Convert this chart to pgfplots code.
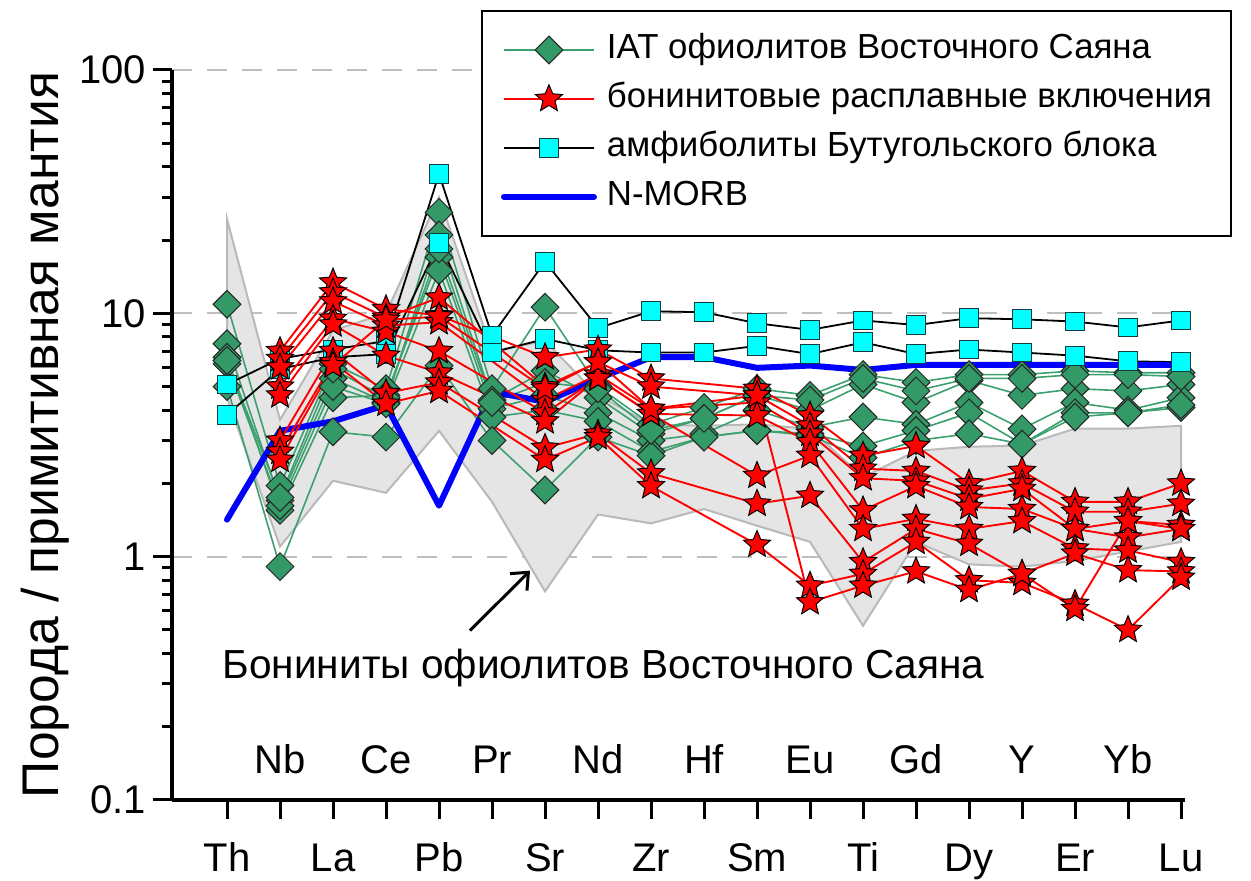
\documentclass[border=0pt]{standalone}
\usepackage{pgfplots}
\pgfplotsset{compat=1.18}
\usepackage{fontspec}
\setmainfont{Liberation Sans}
\usetikzlibrary{arrows.meta}

\definecolor{iatg}{RGB}{51,153,102}
\definecolor{iatl}{RGB}{60,160,110}
\definecolor{fieldfill}{RGB}{229,229,229}
\definecolor{fieldline}{RGB}{185,185,185}
\definecolor{morb}{RGB}{0,0,255}
\definecolor{mkedge}{RGB}{20,60,60}
\definecolor{sqfill}{RGB}{0,255,255}
\definecolor{starred}{RGB}{255,0,0}

\pgfdeclareplotmark{fstar}{%
  \pgfpathmoveto{\pgfpointpolar{90}{\pgfplotmarksize}}%
  \pgfpathlineto{\pgfpointpolar{126}{0.45*\pgfplotmarksize}}%
  \pgfpathlineto{\pgfpointpolar{162}{\pgfplotmarksize}}%
  \pgfpathlineto{\pgfpointpolar{198}{0.45*\pgfplotmarksize}}%
  \pgfpathlineto{\pgfpointpolar{234}{\pgfplotmarksize}}%
  \pgfpathlineto{\pgfpointpolar{270}{0.45*\pgfplotmarksize}}%
  \pgfpathlineto{\pgfpointpolar{306}{\pgfplotmarksize}}%
  \pgfpathlineto{\pgfpointpolar{342}{0.45*\pgfplotmarksize}}%
  \pgfpathlineto{\pgfpointpolar{18}{\pgfplotmarksize}}%
  \pgfpathlineto{\pgfpointpolar{54}{0.45*\pgfplotmarksize}}%
  \pgfpathclose
  \pgfusepathqfillstroke
}

\pgfplotsset{
  iat/.style={iatl, line width=0.8pt, mark=square*, mark size=4.9pt,
    mark options={rotate=45, fill=iatg, draw=black!85, line width=0.5pt, solid}},
  bon/.style={starred, line width=0.95pt, mark=fstar, mark size=7.1pt,
    mark options={fill=starred, draw=black, line width=0.5pt, solid}},
  amph/.style={black, line width=0.9pt, mark=square*, mark size=4.7pt,
    mark options={fill=sqfill, draw=mkedge, line width=0.5pt, solid}},
  nmorb/.style={morb, line width=3pt, line join=round, line cap=round, mark=none},
}

\begin{document}
\begin{tikzpicture}
\useasboundingbox (-86pt,-40.5pt) rectangle (539.5pt,400pt);
\begin{axis}[
  scale only axis, width=506.5pt, height=365pt,
  xmin=-1.038, xmax=18.075,
  ymode=log, ymin=0.1, ymax=100,
  axis lines*=left,
  axis line style={line width=2pt},
  clip=false,
  xtick={0,2,...,18},
  xticklabels={Th,La,Pb,Sr,Zr,Sm,Ti,Dy,Er,Lu},
  extra x ticks={1,3,...,17},
  extra x tick labels={Nb,Ce,Pr,Nd,Hf,Eu,Gd,Y,Yb},
  extra x tick style={xticklabel style={yshift=49pt}},
  ytick={0.1,1,10,100},
  yticklabels={0.1,1,10,100},
  minor ytick={0.2,0.3,0.4,0.5,0.6,0.7,0.8,0.9,2,3,4,5,6,7,8,9,20,30,40,50,60,70,80,90},
  tick align=outside,
  major tick length=9.5pt,
  minor tick length=5pt,
  tick style={line width=1.5pt, black},
  ymajorgrids,
  major y grid style={gray!50, line width=1pt, dash pattern=on 10pt off 7.5pt},
  tick label style={font=\fontsize{20}{24}\selectfont},
  xticklabel style={anchor=base, yshift=-26.5pt},
  ylabel={Порода / примитивная мантия},
  ylabel style={font=\fontsize{25.8}{30}\selectfont, at={(axis description cs:-0.1254,0.5)}, anchor=center},
  legend image code/.code={\draw[mark repeat=2,mark phase=2,#1] plot coordinates {(0pt,0pt) (22.5pt,0pt) (45pt,0pt)};},
  legend cell align=left,
  legend style={at={(axis description cs:0.305,1.0822)}, anchor=north west,
    draw=black, line width=1pt, fill=white,
    font=\fontsize{17.4}{20}\selectfont,
    inner xsep=9.5pt, inner ysep=11.5pt, row sep=8.5pt, column sep=5pt,
    nodes={inner sep=0pt, text height=12.5pt, text depth=3.5pt}},
]

% legend images
\addlegendimage{iat}
\addlegendentry{IAT офиолитов Восточного Саяна}
\addlegendimage{bon}
\addlegendentry{бонинитовые расплавные включения}
\addlegendimage{amph}
\addlegendentry{амфиболиты Бутугольского блока}
\addlegendimage{nmorb}
\addlegendentry{N-MORB}

% boninite field (upper boundary Th->Lu, lower boundary Lu->Th)
\addplot[forget plot, fill=fieldfill, draw=fieldline, line width=1pt] coordinates {
 (0,24.4) (1,3.65) (2,8.5) (3,10.0) (4,30) (5,7.0) (6,7.7) (7,4.6) (8,3.5) (9,3.45)
 (10,3.5) (11,3.35) (12,2.12) (13,2.72) (14,2.83) (15,2.86) (16,3.36) (17,3.36) (18,3.45)
 (18,1.15) (17,1.05) (16,0.96) (15,0.91) (14,0.93) (13,1.15) (12,0.52) (11,1.15) (10,1.34)
 (9,1.57) (8,1.37) (7,1.49) (6,0.72) (5,1.68) (4,3.29) (3,1.83) (2,2.05) (1,1.1) (0,4.5)
} -- cycle;

% IAT
\addplot[iat, forget plot] coordinates {(0,10.9)(1,1.96)(2,6.2)(3,4.9)(4,26)(5,4.9)(6,10.6)(7,5.0)(8,3.5)(9,4.1)(10,4.9)(11,4.6)(12,5.6)(13,5.2)(14,5.6)(15,5.6)(16,5.8)(17,5.7)(18,5.7)};
\addplot[iat, forget plot] coordinates {(0,7.5)(1,1.7)(2,5.4)(3,4.3)(4,21)(5,4.4)(6,5.8)(7,4.5)(8,3.2)(9,3.7)(10,4.6)(11,4.0)(12,5.1)(13,4.3)(14,5.3)(15,4.6)(16,4.9)(17,4.8)(18,5.1)};
\addplot[iat, forget plot] coordinates {(0,6.6)(1,1.55)(2,4.5)(3,4.6)(4,17)(5,4.05)(6,4.6)(7,3.9)(8,3.0)(9,3.2)(10,4.0)(11,3.4)(12,3.75)(13,3.5)(14,4.3)(15,3.35)(16,4.3)(17,4.0)(18,4.5)};
\addplot[iat, forget plot] coordinates {(0,6.2)(1,1.62)(2,5.0)(3,4.25)(4,15)(5,3.75)(6,4.0)(7,3.6)(8,2.7)(9,3.1)(10,3.3)(11,3.2)(12,2.85)(13,3.3)(14,3.9)(15,2.9)(16,3.9)(17,3.9)(18,4.1)};
\addplot[iat, forget plot] coordinates {(0,5.0)(1,0.91)(2,3.26)(3,3.1)(4,6.1)(5,3.0)(6,1.88)(7,3.1)(8,2.6)(9,3.1)(10,3.3)(11,3.15)(12,2.55)(13,3.0)(14,3.2)(15,2.9)(16,3.75)(17,3.9)(18,4.2)};
\addplot[iat, forget plot] coordinates {(0,6.4)(1,1.75)(2,5.9)(3,4.5)(4,18.4)(5,4.3)(6,5.2)(7,4.9)(8,3.3)(9,3.7)(10,4.6)(11,4.4)(12,5.4)(13,4.8)(14,5.4)(15,5.4)(16,5.6)(17,5.6)(18,5.5)};

% amphibolites
\addplot[amph, forget plot] coordinates {(0,5.1)(1,6.5)(2,7.1)(3,7.7)(4,37.4)(5,8.1)(6,16.3)(7,8.7)(8,10.2)(9,10.1)(10,9.1)(11,8.55)(12,9.35)(13,8.95)(14,9.55)(15,9.45)(16,9.25)(17,8.75)(18,9.35)};
\addplot[amph, forget plot] coordinates {(0,3.83)(1,5.9)(2,6.6)(3,6.8)(4,19.5)(5,6.9)(6,7.85)(7,7.05)(8,6.9)(9,6.9)(10,7.35)(11,6.8)(12,7.6)(13,6.8)(14,7.1)(15,6.9)(16,6.7)(17,6.35)(18,6.3)};

% N-MORB
\addplot[nmorb, forget plot] coordinates {(0,1.42)(1,3.29)(2,3.6)(3,4.2)(4,1.62)(5,4.76)(6,4.33)(7,5.38)(8,6.6)(9,6.6)(10,5.97)(11,6.1)(12,5.85)(13,6.14)(14,6.14)(15,6.14)(16,6.14)(17,6.14)(18,6.14)};

% boninitic melt inclusions (no Hf)
\addplot[bon, forget plot] coordinates {(1,7.0)(2,13.4)(3,10.4)(4,9.8)(6,6.6)(7,7.1)(8,5.4)(10,4.9)(11,3.8)(12,2.6)(13,2.85)(14,2.0)(15,2.25)(16,1.68)(17,1.68)(18,2.0)};
\addplot[bon, forget plot] coordinates {(1,6.5)(2,12.2)(3,9.6)(4,11.6)(6,5.0)(7,6.3)(8,5.0)(10,4.6)(11,3.45)(12,2.3)(13,2.25)(14,1.87)(15,2.0)(16,1.53)(17,1.53)(18,1.65)};
\addplot[bon, forget plot] coordinates {(1,6.0)(2,11.2)(3,8.9)(4,9.2)(6,4.4)(7,5.6)(8,4.05)(10,4.3)(11,3.2)(12,2.1)(13,2.05)(14,1.73)(15,1.9)(16,1.3)(17,1.4)(18,1.35)};
\addplot[bon, forget plot] coordinates {(1,5.0)(2,9.5)(3,8.4)(4,7.0)(6,3.9)(7,5.4)(8,3.86)(10,3.8)(11,2.95)(12,1.55)(13,1.95)(14,1.6)(15,1.57)(16,1.3)(17,1.2)(18,1.3)};
\addplot[bon, forget plot] coordinates {(1,4.6)(2,9.0)(3,6.7)(4,5.7)(6,3.6)(7,5.4)(8,3.86)(10,2.15)(11,2.6)(12,1.3)(13,1.43)(14,1.3)(15,1.4)(16,1.08)(17,1.06)(18,0.95)};
\addplot[bon, forget plot] coordinates {(1,3.0)(2,7.0)(3,4.7)(4,5.2)(6,2.8)(7,3.2)(8,2.2)(10,1.65)(11,1.78)(12,0.95)(13,1.3)(14,1.13)(15,0.85)(16,1.03)(17,0.88)(18,0.87)};
\addplot[bon, forget plot] coordinates {(1,2.7)(2,6.3)(3,4.25)(4,4.8)(6,2.5)(7,3.1)(8,1.95)(10,1.12)(11,0.76)(12,0.85)(13,1.15)(14,0.8)(15,0.78)(16,0.64)(17,0.5)(18,0.82)};
\addplot[bon, forget plot] coordinates {(1,2.5)(2,6.1)(3,9.4)(4,9.7)(6,4.9)(7,6.3)(8,4.05)(10,4.6)(11,0.65)(12,0.76)(13,0.87)(14,0.73)(15,0.85)(16,0.61)(17,1.4)(18,1.3)};

% annotation
\draw[black, line width=1.5pt, -{Straight Barb[length=7pt, width=12pt, line width=1.5pt]}] (axis cs:4.585,0.497) -- (axis cs:5.717,0.876);
\node[anchor=base, font=\fontsize{20.3}{24}\selectfont, inner sep=0pt] at (axis cs:7.104,0.3155) {Бониниты офиолитов Восточного Саяна};
\end{axis}
\end{tikzpicture}
\end{document}
